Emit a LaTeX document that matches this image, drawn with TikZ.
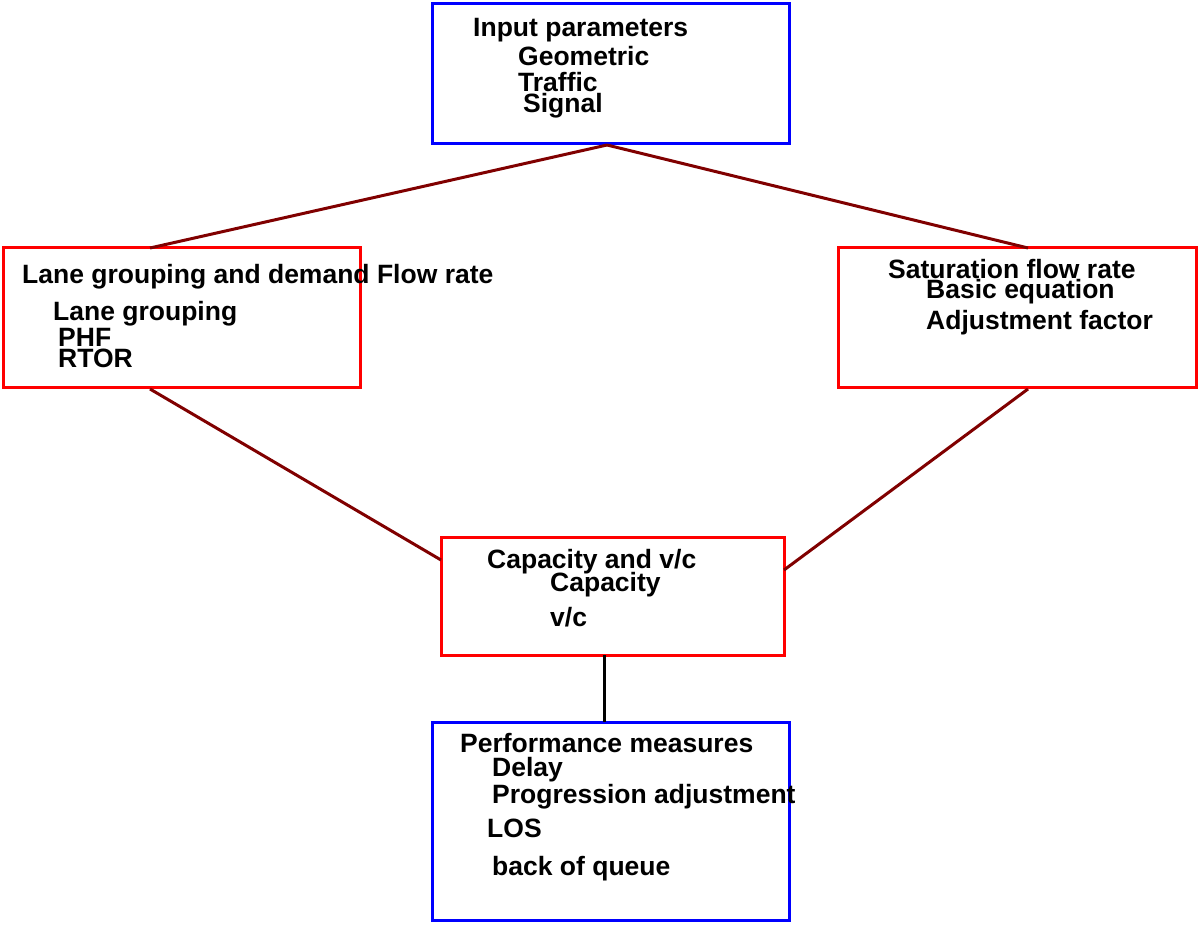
\documentclass[tikz,border=0pt]{standalone}
\usepackage{fontspec}
\setmainfont{Liberation Sans}
\begin{document}
\begin{tikzpicture}[x=1pt,y=-1pt,
  box/.style={draw=#1,line width=3pt,inner sep=0pt},
  lbl/.style={anchor=west,inner sep=0pt,font=\fontsize{26.5}{26.5}\selectfont\bfseries},
  conn/.style={draw={rgb,255:red,128;green,0;blue,0},line width=3pt}]
\useasboundingbox (0,0) rectangle (1200,925);
\path[box=blue] (432,4) rectangle (789,144);
\coordinate (top) at (607,145);
\path[box=red] (3,248) rectangle (360,388);
\path[box=red] (838,248) rectangle (1196,388);
\path[box=red] (441,537) rectangle (784,655);
\path[box=blue] (432,722) rectangle (789,920);
\coordinate (leftN) at (150,248);
\coordinate (leftS) at (150,389);
\coordinate (rightN) at (1028,248);
\coordinate (rightS) at (1028,389);
\coordinate (midW) at (441,560);
\coordinate (midE) at (784,570);
\coordinate (midS) at (604,655);
\coordinate (botN) at (604,722);
\draw[conn] (top) -- (leftN);
\draw[conn] (top) -- (rightN);
\draw[conn] (leftS) -- (midW);
\draw[conn] (rightS) -- (midE);
\draw[line width=3pt] (midS) -- (botN);
\node[lbl] (t1) at (473,30) {Input parameters};
\node[lbl] (t2) at (518,56) {Geometric};
\node[lbl] (t3) at (518,82) {Traffic};
\node[lbl] (t4) at (523,106) {Signal};
\node[lbl] (l1) at (22,277) {Lane grouping and demand Flow rate};
\node[lbl] (l2) at (53,314) {Lane grouping};
\node[lbl] (l3) at (58,337) {PHF};
\node[lbl] (l4) at (58,358) {RTOR};
\node[lbl] (r1) at (888,269) {Saturation flow rate};
\node[lbl] (r2) at (926,292) {Basic equation};
\node[lbl] (r3) at (926,323) {Adjustment factor};
\node[lbl] (m1) at (487,562) {Capacity and v/c};
\node[lbl] (m2) at (550,585) {Capacity};
\node[lbl] (m3) at (550,617) {v/c};
\node[lbl] (b1) at (460,743) {Performance measures};
\node[lbl] (b2) at (492,770) {Delay};
\node[lbl] (b3) at (492,797) {Progression adjustment};
\node[lbl] (b4) at (487,828) {LOS};
\node[lbl] (b5) at (492,869) {back of queue};
\end{tikzpicture}
\end{document}
